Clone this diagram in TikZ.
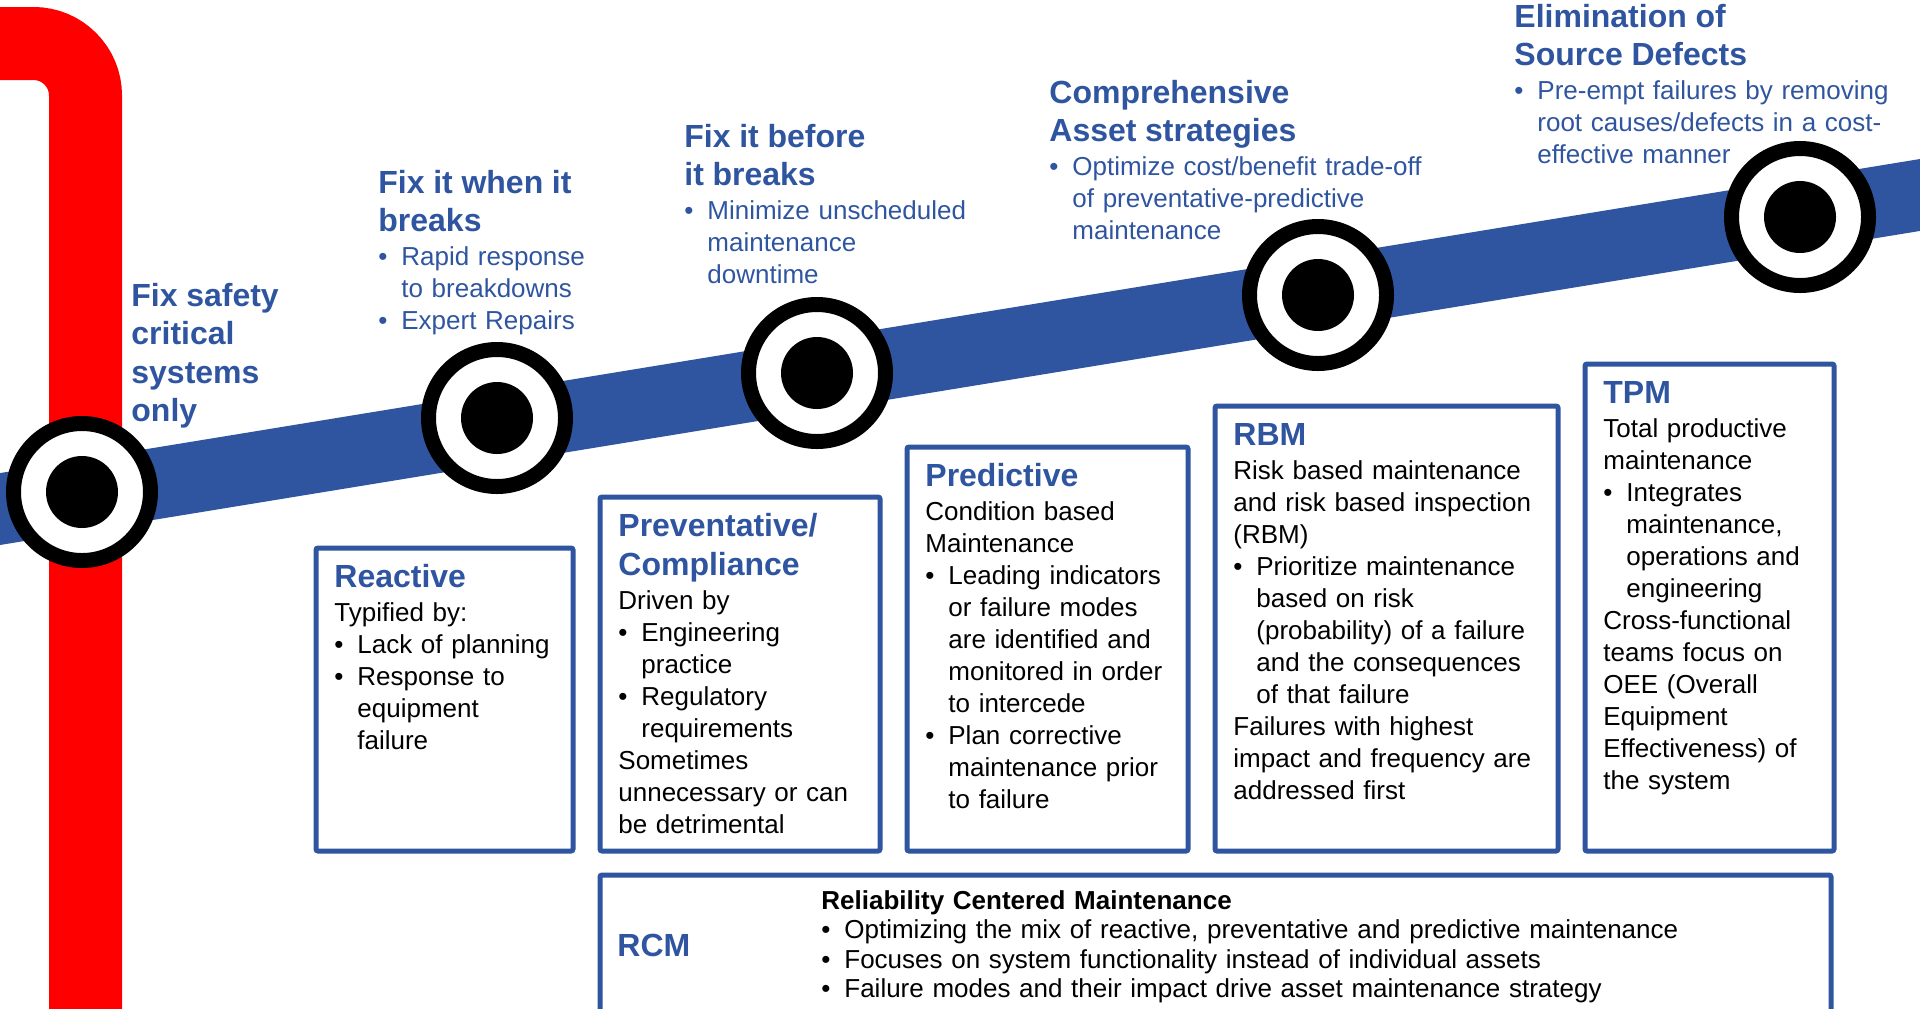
\documentclass[tikz,border=0pt]{standalone}
\usepackage{fontspec}
\setmainfont{Liberation Sans}
\usetikzlibrary{positioning}

\definecolor{mblue}{RGB}{47,85,160}
\definecolor{mred}{RGB}{255,0,0}

\newcommand{\bodyfont}{\fontsize{13}{16}\selectfont}
\newcommand{\rcmfont}{\fontsize{13}{14.75}\selectfont}
\newcommand{\headfont}{\fontsize{16}{19.25}\selectfont\bfseries}
\newcommand{\mhead}[1]{{\headfont\color{mblue}#1\par}\vspace{1pt}}
\newcommand{\mbul}{\makebox[11.5pt][l]{\textbullet}}
\newcommand{\mcont}{\hspace*{11.5pt}}

\tikzstyle{redline} = [line width=36.5pt, draw=mred, rounded corners=26pt]
\tikzstyle{blueline} = [line width=35.5pt, draw=mblue]
\tikzstyle{ring} = [circle, draw=black, fill=white, line width=7.5pt, minimum size=68.5pt, inner sep=0pt]
\tikzstyle{hub} = [circle, fill=black, minimum size=36pt, inner sep=0pt]
\tikzstyle{stage} = [rectangle, draw=mblue, line width=2.5pt, rounded corners=1pt, inner sep=0pt, outer sep=0pt, anchor=south west]
\tikzstyle{milestone} = [anchor=base west, inner sep=0pt, text width=200pt, align=left, font=\bodyfont, text=mblue]
\tikzstyle{boxtext} = [anchor=base west, inner sep=0pt, text width=170pt, align=left, font=\bodyfont]

\begin{document}
\begin{tikzpicture}[x=0.5pt, y=-0.5pt]
	\useasboundingbox (0,0) rectangle (1920,1008);
	\clip (0,0) rectangle (1920,1008);

	% red and blue lines
	\coordinate (red_start) at (-20,43.5);
	\coordinate (red_corner) at (85.5,43.5);
	\coordinate (red_end) at (85.5,1040);
	\draw [redline] (red_start) -- (red_corner) -- (red_end);

	\coordinate (band_start) at (-20,512.3);
	\coordinate (band_end) at (1940,191.7);
	\draw [blueline] (band_start) -- (band_end);

	% targets on the line
	\node (safety_ring) [ring] at (82,492) {};
	\node (safety_hub) [hub] at (safety_ring) {};
	\node (when_ring) [ring] at (497,418) {};
	\node (when_hub) [hub] at (when_ring) {};
	\node (before_ring) [ring] at (817,373) {};
	\node (before_hub) [hub] at (before_ring) {};
	\node (asset_ring) [ring] at (1318,295) {};
	\node (asset_hub) [hub] at (asset_ring) {};
	\node (source_ring) [ring] at (1800,217) {};
	\node (source_hub) [hub] at (source_ring) {};

	% labels above the line
	\node (safety_label) [milestone] at (131,306) {\mhead{Fix safety\\critical\\systems\\only}};
	\node (when_label) [milestone] at (378,193) {\mhead{Fix it when it\\breaks}
		\mbul Rapid response\\
		\mcont to breakdowns\\
		\mbul Expert Repairs};
	\node (before_label) [milestone] at (684,147) {\mhead{Fix it before\\it breaks}
		\mbul Minimize unscheduled\\
		\mcont maintenance\\
		\mcont downtime};
	\node (asset_label) [milestone] at (1049,103) {\mhead{Comprehensive\\Asset strategies}
		\mbul Optimize cost/benefit trade-off\\
		\mcont of preventative-predictive\\
		\mcont maintenance};
	\node (source_label) [milestone] at (1514,27) {\mhead{Elimination of\\Source Defects}
		\mbul Pre-empt failures by removing\\
		\mcont root causes/defects in a cost-\\
		\mcont effective manner};

	% boxes
	\node (reactive) [stage, minimum width=128.5pt, minimum height=151.5pt] at (316,851) {};
	\node (preventative) [stage, right=13.5pt of reactive.south east, anchor=south west, minimum width=140pt, minimum height=177pt] {};
	\node (predictive) [stage, right=13.5pt of preventative.south east, anchor=south west, minimum width=140.5pt, minimum height=202pt] {};
	\node (rbm) [stage, right=13.5pt of predictive.south east, anchor=south west, minimum width=171.5pt, minimum height=222.5pt] {};
	\node (tpm) [stage, right=13.5pt of rbm.south east, anchor=south west, minimum width=124.5pt, minimum height=243.5pt] {};
	\node (rcm) [stage, below=12pt of preventative.south west, anchor=north west, minimum width=615.5pt, minimum height=82.5pt] {};

	\node (reactive_text) [boxtext] at ([shift={(18,39.5)}]reactive.north west) {\mhead{Reactive}
		Typified by:\\
		\mbul Lack of planning\\
		\mbul Response to\\
		\mcont equipment\\
		\mcont failure};
	\node (preventative_text) [boxtext] at ([shift={(18,39.5)}]preventative.north west) {\mhead{Preventative/\\Compliance}
		Driven by\\
		\mbul Engineering\\
		\mcont practice\\
		\mbul Regulatory\\
		\mcont requirements\\
		Sometimes\\
		unnecessary or can\\
		be detrimental};
	\node (predictive_text) [boxtext] at ([shift={(18,39.5)}]predictive.north west) {\mhead{Predictive}
		Condition based\\
		Maintenance\\
		\mbul Leading indicators\\
		\mcont or failure modes\\
		\mcont are identified and\\
		\mcont monitored in order\\
		\mcont to intercede\\
		\mbul Plan corrective\\
		\mcont maintenance prior\\
		\mcont to failure};
	\node (rbm_text) [boxtext] at ([shift={(18,39.5)}]rbm.north west) {\mhead{RBM}
		Risk based maintenance\\
		and risk based inspection\\
		(RBM)\\
		\mbul Prioritize maintenance\\
		\mcont based on risk\\
		\mcont (probability) of a failure\\
		\mcont and the consequences\\
		\mcont of that failure\\
		Failures with highest\\
		impact and frequency are\\
		addressed first};
	\node (tpm_text) [boxtext] at ([shift={(18,39.5)}]tpm.north west) {\mhead{TPM}
		Total productive\\
		maintenance\\
		\mbul Integrates\\
		\mcont maintenance,\\
		\mcont operations and\\
		\mcont engineering\\
		Cross-functional\\
		teams focus on\\
		OEE (Overall\\
		Equipment\\
		Effectiveness) of\\
		the system};
	\node (rcm_title) [boxtext] at ([shift={(17,81)}]rcm.north west) {\headfont\color{mblue}RCM};
	\node (rcm_text) [boxtext, text width=500pt, font=\rcmfont] at ([shift={(221,34)}]rcm.north west) {\textbf{Reliability Centered Maintenance}\\
		\mbul Optimizing the mix of reactive, preventative and predictive maintenance\\
		\mbul Focuses on system functionality instead of individual assets\\
		\mbul Failure modes and their impact drive asset maintenance strategy};

\end{tikzpicture}
\end{document}
